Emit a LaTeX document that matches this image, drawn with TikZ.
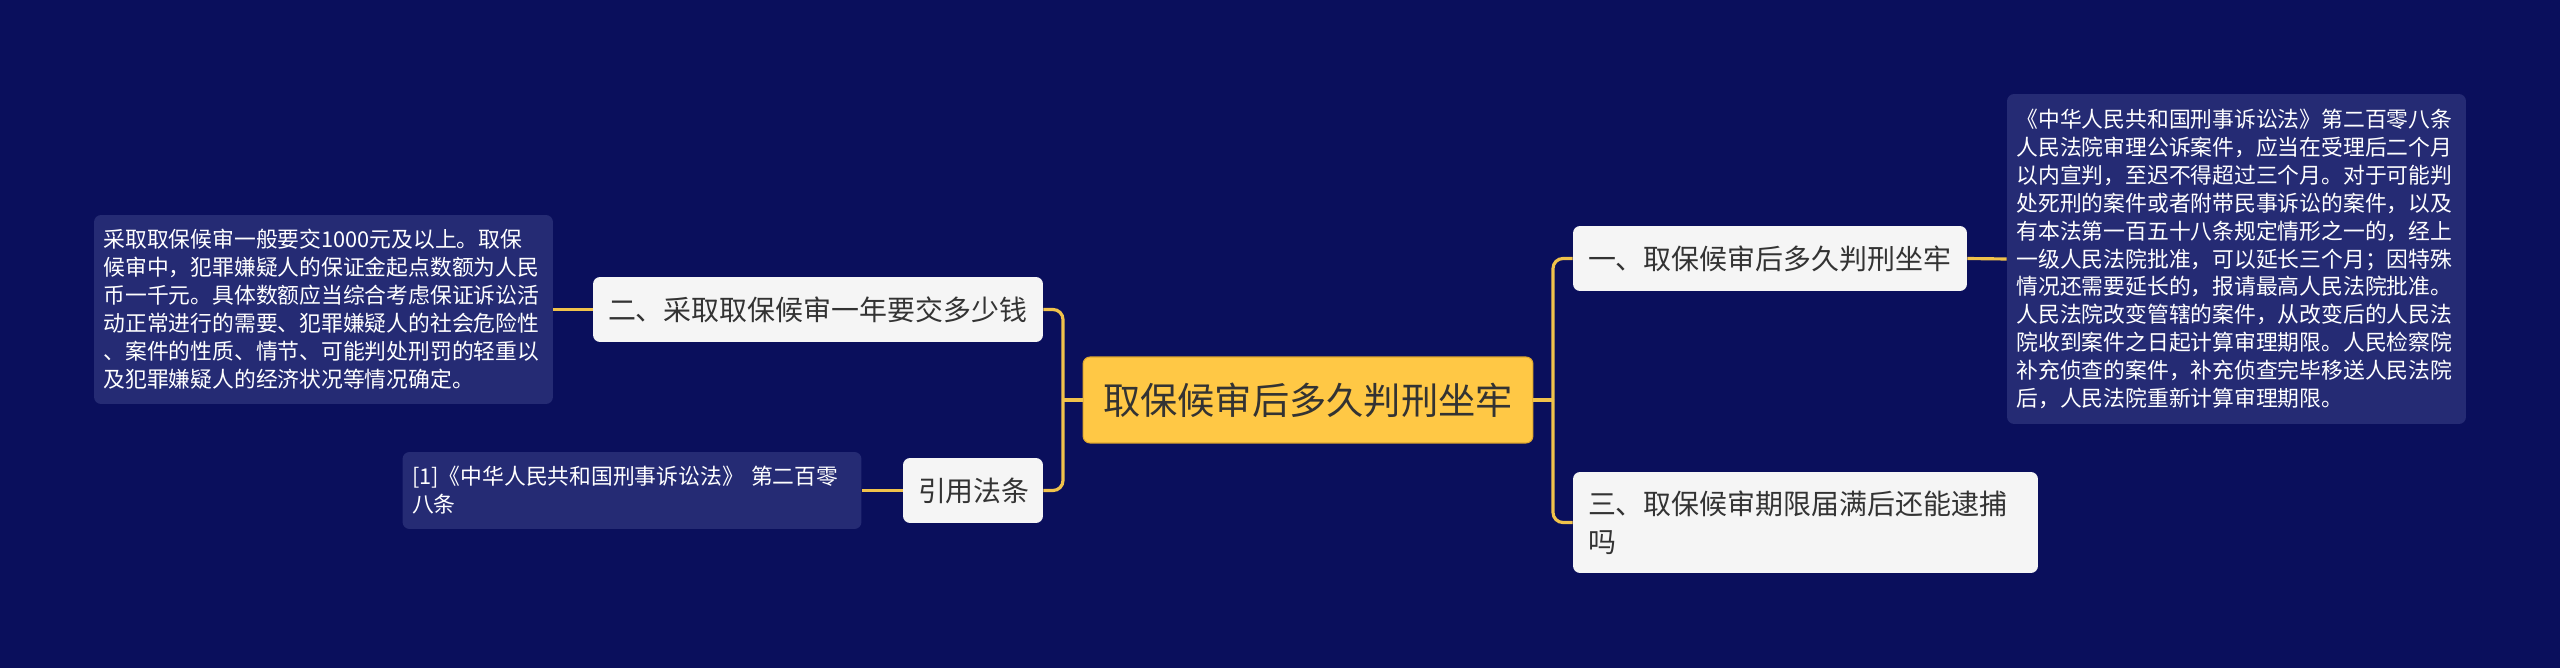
\documentclass[tikz,border=0pt]{standalone}
\usepackage{fontspec}
\newfontfamily\cjk{Noto Sans CJK SC}
\usepackage{xcolor}
\definecolor{bgnavy}{HTML}{0A0F5C}
\definecolor{notefill}{HTML}{252B74}
\definecolor{leafwhite}{HTML}{F5F5F5}
\definecolor{rootfill}{HTML}{FFC845}
\definecolor{rootline}{HTML}{E0A82E}
\definecolor{inkdark}{HTML}{333333}
\definecolor{linkyellow}{HTML}{F0C24B}
\tikzset{
  mroot/.style={draw=rootline,fill=rootfill,text=inkdark,rounded corners=4pt,line width=0.6pt,align=center,minimum width=9cm,minimum height=1.72cm,font=\cjk\fontsize{21.2}{26}\selectfont},
  mbranch/.style={fill=leafwhite,text=inkdark,rounded corners=4pt,align=left,inner xsep=0.3cm,inner ysep=0.1cm,font=\cjk\fontsize{15.9}{21.6}\selectfont},
  mnote/.style={fill=notefill,text=white,rounded corners=4pt,align=left,inner xsep=0.19cm,inner ysep=0.1cm,text width=8.8cm,font=\cjk\fontsize{12.4}{15.9}\selectfont},
  mline/.style={draw=linkyellow,line width=1.8pt},
  mbend/.style={mline,rounded corners=0.2cm}
}
\begin{document}
\begin{tikzpicture}[x=0.02cm,y=-0.02cm]
  \fill[bgnavy] (0,0) rectangle (2560,668);
  \useasboundingbox (0,0) rectangle (2560,668);
  % centre
  \node[mroot] (root) at (1308,400) {取保候审后多久判刑坐牢};
  % left side
  \node[mbranch,text width=8.4cm,minimum height=1.3cm] (two) at (818,309.5) {二、采取取保候审一年要交多少钱};
  \node[mbranch,text width=2.2cm,minimum height=1.3cm] (cite) at (973,490.5) {引用法条};
  \node[mnote,minimum height=3.78cm] (money) at (323.5,309.5) {采取取保候审一般要交1000元及以上。取保\\
     候审中，犯罪嫌疑人的保证金起点数额为人民\\
     币一千元。具体数额应当综合考虑保证诉讼活\\
     动正常进行的需要、犯罪嫌疑人的社会危险性\\
     、案件的性质、情节、可能判处刑罚的轻重以\\
     及犯罪嫌疑人的经济状况等情况确定。};
  \node[mnote,minimum height=1.54cm] (lawref) at (632,490.5) {[1]《中华人民共和国刑事诉讼法》 第二百零\\
     八条};
  % right side
  \node[mbranch,text width=7.28cm,minimum height=1.3cm] (one) at (1770,258.5) {一、取保候审后多久判刑坐牢};
  \node[mbranch,text width=8.7cm,minimum height=2.02cm] (three) at (1805.5,522.5) {三、取保候审期限届满后还能逮捕\\
     吗};
  \node[mnote,minimum height=6.6cm] (term) at (2236.5,259) {《中华人民共和国刑事诉讼法》第二百零八条\\
     人民法院审理公诉案件，应当在受理后二个月\\
     以内宣判，至迟不得超过三个月。对于可能判\\
     处死刑的案件或者附带民事诉讼的案件，以及\\
     有本法第一百五十八条规定情形之一的，经上\\
     一级人民法院批准，可以延长三个月；因特殊\\
     情况还需要延长的，报请最高人民法院批准。\\
     人民法院改变管辖的案件，从改变后的人民法\\
     院收到案件之日起计算审理期限。人民检察院\\
     补充侦查的案件，补充侦查完毕移送人民法院\\
     后，人民法院重新计算审理期限。};
  % connectors
  \coordinate (lhub) at (1063,400);
  \coordinate (rhub) at (1553,400);
  \draw[mline] (root.west) -- (lhub);
  \draw[mbend] (lhub) |- (two.east);
  \draw[mbend] (lhub) |- (cite.east);
  \draw[mline] (root.east) -- (rhub);
  \draw[mbend] (rhub) |- (one.west);
  \draw[mbend] (rhub) |- (three.west);
  \draw[mline] (two.west) -- (money.east);
  \draw[mline] (cite.west) -- (lawref.east);
  \draw[mline] (one.east) -- (term.west);
\end{tikzpicture}
\end{document}
